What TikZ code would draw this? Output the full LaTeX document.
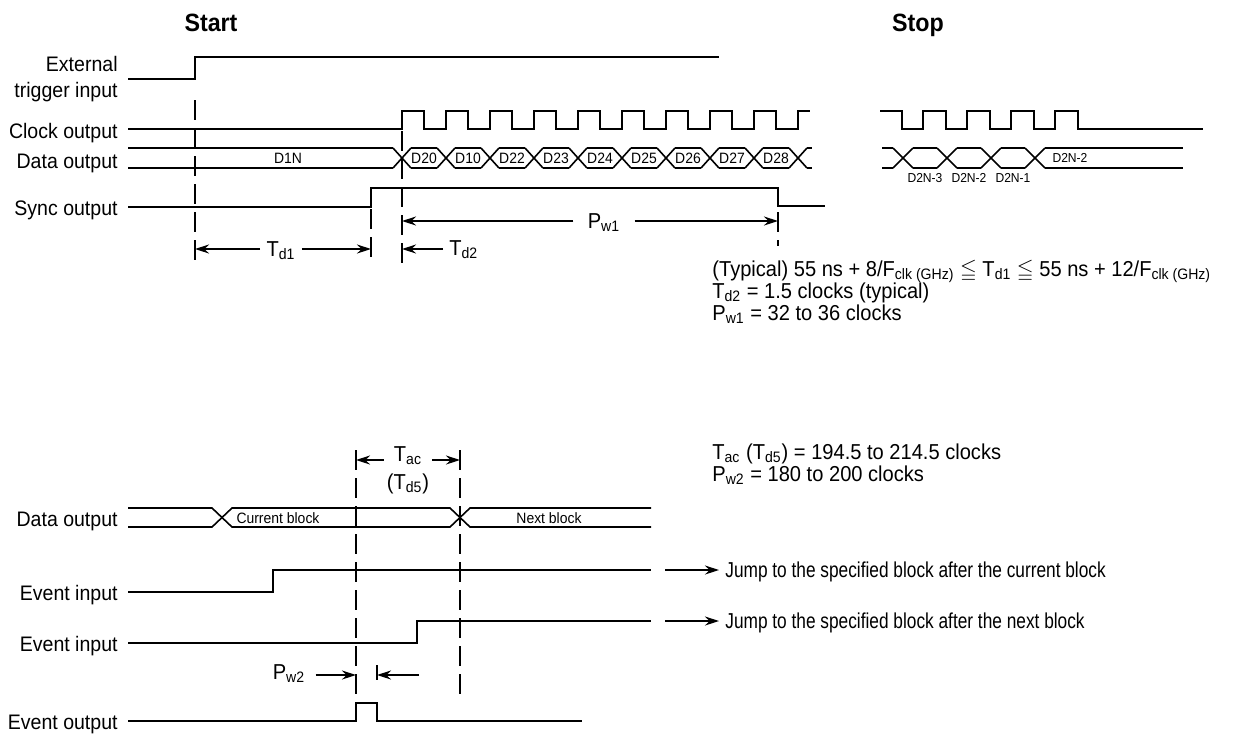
\documentclass[tikz,border=0pt]{standalone}
\usepackage{amssymb}
\usepackage{fontspec}
\setmainfont{Liberation Sans}[FakeStretch=0.93]
\newfontfamily\narrowfont{Liberation Sans}[FakeStretch=0.8]
\usepackage{tikz}
\usetikzlibrary{
	arrows.meta,
	positioning
}

\begin{document}
\begin{tikzpicture}[
				x=0.5pt, y=-0.5pt,
				sig/.style={line width=0.8pt},
				guide/.style={line width=0.7pt, dash pattern=on 10pt off 4pt},
				dim/.style={-{Stealth[length=7pt,width=4.5pt]}, line width=0.65pt},
				lbl/.style={anchor=base east, inner sep=0pt, font=\fontsize{10.5}{13}\selectfont},
				dlbl/.style={inner sep=0pt, font=\fontsize{7.5}{9}\selectfont},
				slbl/.style={inner sep=0pt, font=\fontsize{6.5}{8}\selectfont},
				note/.style={anchor=base west, inner sep=0pt, font=\fontsize{10.8}{13}\selectfont},
				jumptxt/.style={anchor=base west, inner sep=0pt, font=\fontsize{10.8}{13}\narrowfont},
				dimtxt/.style={anchor=base, inner xsep=3pt, inner ysep=0pt, font=\fontsize{10.8}{13}\selectfont},
				heading/.style={anchor=base, inner sep=0pt, font=\fontsize{12.5}{15}\selectfont\bfseries}
				]
				\useasboundingbox (0,0) rectangle (1238,736);
				
				% headings
				\node[heading] (start) at (211,31) {Start};
				\node[heading] (stop) at (918,31) {Stop};
				
				% signal names
				\node[lbl] (extLbl) at (118,71) {External};
				\node[lbl] (extLbl2) at (118,97) {trigger input};
				\node[lbl] (clkLbl) at (118,138) {Clock output};
				\node[lbl] (dataLbl) at (118,168) {Data output};
				\node[lbl] (syncLbl) at (118,215) {Sync output};
				
				% external trigger
				\draw[sig] (128,79) -- (195,79) -- (195,57) -- (719,57);
				
				% clock output (start)
				\draw[sig] (128,129) -- (402,129)
					\foreach \k in {0,...,8}{ -- ++(0,-18) -- ++(22,0) -- ++(0,18) -- ++(22,0) }
					-- ++(0,-18) -- ++(12,0);
				
				% clock output (stop)
				\draw[sig] (880,111) -- (902,111)
					\foreach \k in {0,...,3}{ -- ++(0,18) -- ++(21,0) -- ++(0,-18) -- ++(23,0) }
					-- ++(0,18) -- (1203,129);
				
				% data output (start)
				\draw[sig] (128,148) -- (393,148) (128,168) -- (393,168);
				\foreach \c in {402,446,...,798}{
					\draw[sig] (\c-9,148) -- (\c+9,168) (\c-9,168) -- (\c+9,148);
				}
				\foreach \c in {402,446,...,754}{
					\draw[sig] (\c+9,148) -- (\c+35,148) (\c+9,168) -- (\c+35,168);
				}
				\draw[sig] (807,148) -- (812,148) (807,168) -- (812,168);
				\node[dlbl] (d1n) at (288,158) {D1N};
				\foreach \lab [count=\i from 0] in {D20,D10,D22,D23,D24,D25,D26,D27,D28}{
					\node[dlbl] (data\i) at (424+44*\i,158) {\lab};
				}
				
				% data output (stop)
				\draw[sig] (882,148) -- (893,148) (882,168) -- (893,168);
				\foreach \c in {903,947,991,1035}{
					\draw[sig] (\c-10,148) -- (\c+10,168) (\c-10,168) -- (\c+10,148);
				}
				\foreach \c in {903,947,991}{
					\draw[sig] (\c+10,148) -- (\c+34,148) (\c+10,168) -- (\c+34,168);
				}
				\draw[sig] (1045,148) -- (1183,148) (1045,168) -- (1183,168);
				\node[slbl] (dLast) at (1070,158) {D2N-2};
				\node[slbl] (dStop1) at (925,178) {D2N-3};
				\node[slbl] (dStop2) at (969,178) {D2N-2};
				\node[slbl] (dStop3) at (1013,178) {D2N-1};
				
				% sync output
				\draw[sig] (128,207) -- (371,207) -- (371,188) -- (778,188) -- (778,206) -- (825,206);
				
				% guides
				\draw[guide] (195,100) -- (195,262);
				\draw[guide] (402,131) -- (402,263);
				\draw[guide] (371,209) -- (371,262);
				\draw[guide] (778,212) -- (778,246);
				
				% T_d1, T_d2, P_w1
				\coordinate (td1L) at (195,249);
				\coordinate (td1R) at (371,249);
				\node[dimtxt] (td1) at (281,256) {T\textsubscript{d1}};
				\draw[dim] (td1.west |- td1L) -- (td1L);
				\draw[dim] (td1.east |- td1R) -- (td1R);
				
				\coordinate (td2R) at (402,249);
				\node[dimtxt, anchor=base west] (td2) at (443,255) {T\textsubscript{d2}};
				\draw[dim] (td2.west |- td2R) -- (td2R);
				
				\coordinate (pw1L) at (402,221);
				\coordinate (pw1R) at (778,221);
				\node[dimtxt, inner xsep=7pt] (pw1) at (604,228) {P\textsubscript{w1}};
				\draw[dim] (pw1.west |- pw1L) -- (pw1L);
				\draw[dim] (pw1.east |- pw1R) -- (pw1R);
				
				% notes (start/stop)
				\node[note] (note1) at (712,276) {(Typical) 55 ns + 8/F\textsubscript{clk (GHz)} $\leqq$ T\textsubscript{d1} $\leqq$ 55 ns + 12/F\textsubscript{clk (GHz)}};
				\node[note] (note2) at (712,298) {T\textsubscript{d2} = 1.5 clocks (typical)};
				\node[note] (note3) at (712,320) {P\textsubscript{w1} = 32 to 36 clocks};
				
				% ---- event section ----
				\node[lbl] (data2Lbl) at (118,526) {Data output};
				\node[lbl] (evIn1Lbl) at (118,600) {Event input};
				\node[lbl] (evIn2Lbl) at (118,651) {Event input};
				\node[lbl] (evOutLbl) at (118,729) {Event output};
				
				% data output (blocks)
				\draw[sig] (128,508) -- (212,508) -- (232,527) -- (450,527) -- (470,508) -- (651,508);
				\draw[sig] (128,527) -- (212,527) -- (232,508) -- (450,508) -- (470,527) -- (651,527);
				\node[dlbl] (curBlock) at (278,518) {Current block};
				\node[dlbl] (nextBlock) at (549,518) {Next block};
				
				% event inputs and output
				\draw[sig] (128,592) -- (273,592) -- (273,570) -- (651,570);
				\draw[sig] (128,643) -- (417,643) -- (417,621) -- (651,621);
				\draw[sig] (128,721) -- (356,721) -- (356,703) -- (377,703) -- (377,721) -- (582,721);
				
				% guides
				\draw[guide] (356,450) -- (356,703);
				\draw[guide] (460,450) -- (460,698);
				\draw[guide] (377,665) -- (377,680);
				
				% T_ac
				\coordinate (tacL) at (356,460);
				\coordinate (tacR) at (460,460);
				\node[dimtxt, inner xsep=5pt] (tac) at (408,461) {T\textsubscript{ac}};
				\draw[dim] (tac.west |- tacL) -- (tacL);
				\draw[dim] (tac.east |- tacR) -- (tacR);
				\node[dimtxt] (td5) at (408,489) {(T\textsubscript{d5})};
				
				% P_w2
				\coordinate (pw2L) at (356,675);
				\coordinate (pw2R) at (377,675);
				\coordinate (pw2Tail) at (419,675);
				\node[dimtxt, inner xsep=5pt] (pw2) at (289,679) {P\textsubscript{w2}};
				\draw[dim] (pw2.east |- pw2L) -- (pw2L);
				\draw[dim] (pw2Tail) -- (pw2R);
				
				% jump results
				\coordinate (jmp1) at (665,570);
				\coordinate (jmp2) at (665,621);
				\node[jumptxt] (jump1) at (725,577) {Jump to the specified block after the current block};
				\node[jumptxt] (jump2) at (725,628) {Jump to the specified block after the next block};
				\draw[dim] (jmp1) -- ([xshift=-3pt]jump1.west |- jmp1);
				\draw[dim] (jmp2) -- ([xshift=-3pt]jump2.west |- jmp2);
				
				% notes (event)
				\node[note] (note4) at (712,459) {T\textsubscript{ac} (T\textsubscript{d5}) = 194.5 to 214.5 clocks};
				\node[note] (note5) at (712,481) {P\textsubscript{w2} = 180 to 200 clocks};
			\end{tikzpicture}
\end{document}
